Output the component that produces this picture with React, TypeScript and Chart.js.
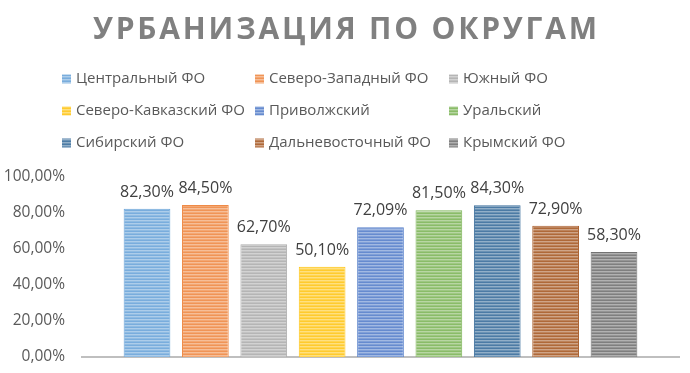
import React, { useEffect, useRef } from "react";
import { Chart, registerables } from "chart.js";

Chart.register(...registerables);

const titleText = "УРБАНИЗАЦИЯ ПО ОКРУГАМ";
const districts = [
  "Центральный ФО",
  "Северо-Западный ФО",
  "Южный ФО",
  "Северо-Кавказский ФО",
  "Приволжский",
  "Уральский",
  "Сибирский ФО",
  "Дальневосточный ФО",
  "Крымский ФО",
];
const urbanization = [82.3, 84.5, 62.7, 50.1, 72.09, 81.5, 84.3, 72.9, 58.3];
const valueLabels = ["82,30%", "84,50%", "62,70%", "50,10%", "72,09%", "81,50%", "84,30%", "72,90%", "58,30%"];
const tickValues = [0, 20, 40, 60, 80, 100];
const tickLabels = ["0,00%", "20,00%", "40,00%", "60,00%", "80,00%", "100,00%"];
const colors = ["#5B9BD5", "#ED7D31", "#A5A5A5", "#FFC000", "#4472C4", "#70AD47", "#255E91", "#9E480E", "#636363"];

const FONT = "'Open Sans', 'Noto Sans', sans-serif";

function mix(hex: string, t: number): string {
  const n = parseInt(hex.slice(1), 16);
  const r = (n >> 16) & 255, g = (n >> 8) & 255, b = n & 255;
  const f = (c: number) => Math.round(c + (255 - c) * t);
  return `rgb(${f(r)},${f(g)},${f(b)})`;
}

function stripe(hex: string): CanvasPattern | string {
  const c = document.createElement("canvas");
  c.width = 4;
  c.height = 3;
  const x = c.getContext("2d");
  if (!x) return hex;
  x.fillStyle = mix(hex, 0.18);
  x.fillRect(0, 0, 4, 3);
  x.fillStyle = mix(hex, 0.5);
  x.fillRect(0, 1, 4, 1);
  x.fillStyle = mix(hex, 0.32);
  x.fillRect(0, 2, 4, 1);
  const p = x.createPattern(c, "repeat");
  return p || hex;
}

const overlayPlugin = {
  id: "overlay",
  afterDraw(chart: any) {
    const ctx = chart.ctx as CanvasRenderingContext2D;
    ctx.save();
    // title
    ctx.font = `bold 30px ${FONT}`;
    ctx.fillStyle = "#808080";
    ctx.textBaseline = "alphabetic";
    ctx.textAlign = "left";
    const target = 504;
    (ctx as any).letterSpacing = "0px";
    const w0 = ctx.measureText(titleText).width;
    const ls = (target - w0) / (titleText.length - 1);
    (ctx as any).letterSpacing = `${ls}px`;
    ctx.fillText(titleText, 93, 39);
    (ctx as any).letterSpacing = "0px";

    // legend
    const colX = [62, 255, 449];
    const rowY = [79, 111, 143];
    ctx.font = `15px ${FONT}`;
    ctx.textBaseline = "middle";
    districts.forEach((name, i) => {
      const cx = colX[i % 3];
      const cy = rowY[Math.floor(i / 3)];
      ctx.fillStyle = chart.data.datasets[i].backgroundColor;
      ctx.fillRect(cx, cy - 4.5, 9, 9);
      ctx.fillStyle = "#595959";
      ctx.fillText(name, cx + 14, cy);
    });

    // data labels
    ctx.font = `16px ${FONT}`;
    ctx.fillStyle = "#404040";
    ctx.textAlign = "center";
    ctx.textBaseline = "alphabetic";
    chart.data.datasets.forEach((ds: any, i: number) => {
      const meta = chart.getDatasetMeta(i);
      const el = meta.data[0];
      if (!el) return;
      ctx.fillText(valueLabels[i], el.x, el.y - 12);
    });
    ctx.restore();
  },
};

export default function App() {
  const ref = useRef<HTMLCanvasElement | null>(null);
  useEffect(() => {
    document.body.style.margin = "0";
    const canvas = ref.current;
    if (!canvas) return;
    const chart = new Chart(canvas, {
      type: "bar",
      data: {
        labels: [""],
        datasets: districts.map((name, i) => ({
          label: name,
          data: [urbanization[i]],
          backgroundColor: stripe(colors[i]) as any,
          borderColor: mix(colors[i], 0.1),
          borderWidth: 1,
          categoryPercentage: 0.88,
          barPercentage: 0.8,
        })),
      },
      options: {
        responsive: false,
        animation: false,
        devicePixelRatio: 1,
        layout: { padding: { left: 0, right: 11, top: 177, bottom: 16 } },
        plugins: {
          legend: { display: false },
          title: { display: false },
          tooltip: { enabled: false },
        },
        scales: {
          x: {
            grid: { display: false },
            ticks: { display: false },
            border: { display: true, color: "#bfbfbf", width: 2 },
            afterFit(scale: any) {
              scale.height = 0;
              scale.paddingLeft = 0;
              scale.paddingRight = 0;
              scale.paddingTop = 0;
              scale.paddingBottom = 0;
            },
          },
          y: {
            min: 0,
            max: 100,
            afterBuildTicks(scale: any) {
              scale.ticks = tickValues.map((v) => ({ value: v }));
            },
            ticks: {
              padding: 17,
              color: "#595959",
              font: { family: FONT, size: 15.5 },
              callback: (v: any) => tickLabels[tickValues.indexOf(Number(v))] ?? "",
            },
            grid: { display: false, drawTicks: false },
            border: { display: false },
            afterFit(scale: any) {
              scale.width = 82;
              scale.paddingTop = 0;
              scale.paddingBottom = 0;
              scale.paddingLeft = 0;
              scale.paddingRight = 0;
            },
          },
        },
      },
      plugins: [overlayPlugin],
    });
    return () => chart.destroy();
  }, []);
  return (
    <div style={{ width: 690, height: 373, background: "#fff" }}>
      <canvas ref={ref} width={690} height={373} />
    </div>
  );
}
